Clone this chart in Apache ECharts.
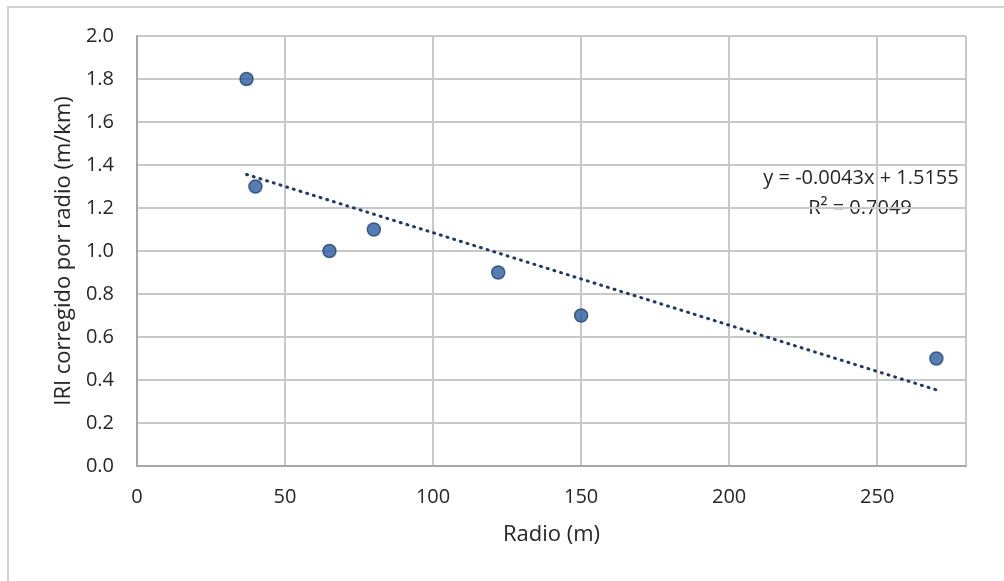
<!DOCTYPE html>
<html>
<head>
<meta charset="utf-8">
<script src="https://cdn.jsdelivr.net/npm/echarts@6/dist/echarts.min.js"></script>
<style>
  html, body { margin: 0; padding: 0; background: #fff; }
  #main { width: 1004px; height: 581px; }
</style>
</head>
<body>
<div id="main"></div>
<script>
// datos
var radio = [37, 40, 65, 80, 122, 150, 270];
var iri = [1.8, 1.3, 1.0, 1.1, 0.9, 0.7, 0.5];
// extremos de la linea de tendencia
var trendX = [37, 270];
var trendY = [1.356, 0.354];
var trendLabel = ['y = -0.0043x + 1.5155', 'R² = 0.7049'];

var chart = echarts.init(document.getElementById('main'));
var font = 'Open Sans';
var txt = '#262626';

var option = {
  animation: false,
  grid: { left: 137, right: 38, top: 36, bottom: 115 },
  graphic: [
    {
      type: 'rect',
      shape: { x: 8, y: 7, width: 1010, height: 590 },
      style: { fill: 'none', stroke: '#d0d0d0', lineWidth: 2 }
    },
    {
      type: 'text',
      x: 861, y: 178,
      style: { text: trendLabel[0], font: '20px "Open Sans"', fill: txt, align: 'center', verticalAlign: 'middle' }
    },
    {
      type: 'text',
      x: 860, y: 208,
      style: { text: trendLabel[1], font: '20px "Open Sans"', fill: txt, align: 'center', verticalAlign: 'middle' }
    }
  ],
  xAxis: {
    type: 'value',
    min: 0, max: 280, interval: 50,
    name: 'Radio (m)',
    nameLocation: 'middle',
    nameGap: 58,
    nameTextStyle: { fontFamily: font, fontSize: 22, color: txt },
    axisLine: { show: true, lineStyle: { color: '#a6a6a6', width: 2 } },
    axisTick: { show: false },
    axisLabel: { fontFamily: font, fontSize: 20, color: txt, margin: 21, showMaxLabel: false },
    splitLine: { show: true, lineStyle: { color: '#c8c8c8', width: 2 } }
  },
  yAxis: {
    type: 'value',
    min: 0, max: 2, interval: 0.2,
    name: 'IRI corregido por radio (m/km)',
    nameLocation: 'middle',
    nameGap: 55,
    nameTextStyle: { fontFamily: font, fontSize: 22, color: txt },
    axisLine: { show: true, lineStyle: { color: '#a6a6a6', width: 2 } },
    axisTick: { show: false },
    axisLabel: {
      fontFamily: font, fontSize: 20, color: txt, margin: 23,
      formatter: function (v) { return v.toFixed(1); }
    },
    splitLine: { show: true, lineStyle: { color: '#c8c8c8', width: 2 } }
  },
  series: [
    {
      type: 'line',
      data: trendX.map(function (x, i) { return [x, trendY[i]]; }),
      symbol: 'none',
      lineStyle: { color: '#1f3864', width: 3, type: [1, 6], cap: 'round' },
      z: 2
    },
    {
      type: 'scatter',
      data: radio.map(function (x, i) { return [x, iri[i]]; }),
      symbolSize: 13,
      itemStyle: { color: '#2c5da0', borderColor: '#1f4470', borderWidth: 1.5 },
      z: 3
    }
  ]
};
chart.setOption(option);
</script>
</body>
</html>
